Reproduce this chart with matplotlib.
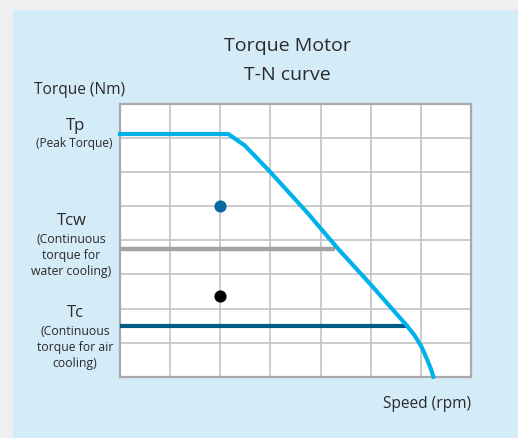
import matplotlib
matplotlib.use("Agg")
import matplotlib.pyplot as plt

plt.rcParams['font.family'] = ['Open Sans', 'DejaVu Sans']

# T-N characteristic (speed in grid units, torque in grid units)
curve_speed = [0.0, 2.16, 2.49, 3.0, 3.76, 4.32, 4.99, 5.72, 5.88, 6.02, 6.12, 6.20, 6.25]
curve_torque = [7.12, 7.12, 6.78, 6.0, 4.77, 3.80, 2.72, 1.50, 1.20, 0.86, 0.52, 0.23, 0.0]

tcw_level = 3.75
tcw_end = 4.29
tc_level = 1.48
tc_end = 5.72

point_water = (2.0, 5.0)
point_air = (2.0, 2.36)

n_cols = 7
n_rows = 8

W, H = 518, 439
fig = plt.figure(figsize=(W / 100, H / 100), dpi=100)
fig.patch.set_facecolor('#efefef')

# light blue panel behind everything
bg = fig.add_axes([0, 0, 1, 1], zorder=0)
bg.set_xlim(0, W)
bg.set_ylim(H, 0)
bg.axis('off')
bg.add_patch(plt.Rectangle((13, 11), W, H, facecolor='#d4ebf8', edgecolor='none'))

left, right, top, bottom = 120, 471, 105, 377.7
ax = fig.add_axes([left / W, 1 - bottom / H, (right - left) / W, (bottom - top) / H], zorder=1)
ax.set_facecolor('white')
ax.set_xlim(0, n_cols)
ax.set_ylim(0, n_rows)
ax.set_xticks(range(n_cols + 1))
ax.set_yticks(range(n_rows + 1))
ax.tick_params(length=0, labelbottom=False, labelleft=False)
ax.grid(True, color='#c4c4c4', linewidth=1.2)
ax.set_axisbelow(True)
for s in ax.spines.values():
    s.set_color('#aaaaaa')
    s.set_linewidth(1.6)

ax.plot([0, tcw_end], [tcw_level, tcw_level], color='#a3a3a3', lw=3.2, solid_capstyle='butt', zorder=3)
ax.plot([0, tc_end], [tc_level, tc_level], color='#005b88', lw=3.0, solid_capstyle='butt', zorder=3)
ax.plot(curve_speed, curve_torque, color='#00b2ea', lw=3.0, solid_joinstyle='round', zorder=4, clip_on=False)

ax.scatter([point_water[0]], [point_water[1]], s=60, color='#0868a0', zorder=5)
ax.scatter([point_air[0]], [point_air[1]], s=60, color='black', zorder=5)

txt = '#2a2a2a'


def put(x, y, s, size, **kw):
    bg.text(x, y, s, ha='center', va='center', fontsize=size, color=txt, **kw)


put(287, 46, 'Torque Motor', 14)
put(287, 75, 'T-N curve', 14)
put(80, 90, 'Torque (Nm)', 11.2)

put(75, 126, 'Tp', 12)
put(74, 143.5, '(Peak Torque)', 8.6)

put(71.5, 221.5, 'Tcw', 12)
put(71.5, 255.5, '(Continuous\ntorque for\nwater cooling)', 8.8, linespacing=1.3)

put(75, 313, 'Tc', 12)
put(75, 347.5, '(Continuous\ntorque for air\ncooling)', 8.8, linespacing=1.3)

put(427, 404, 'Speed (rpm)', 11.2)

fig.savefig('out.png', dpi=100, facecolor=fig.get_facecolor())
